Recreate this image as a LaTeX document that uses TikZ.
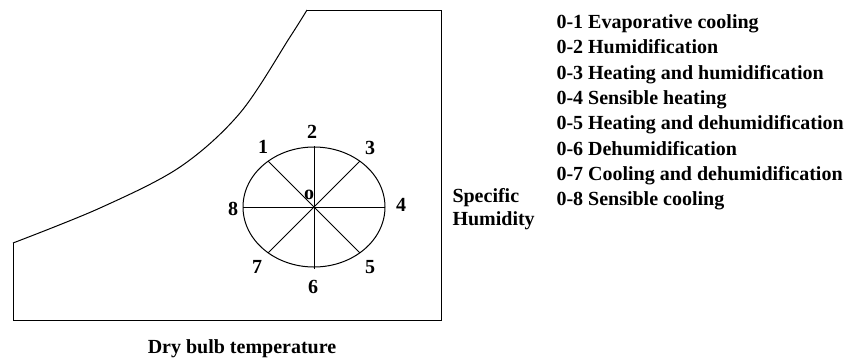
\documentclass[tikz,border=0pt]{standalone}
\usepackage{fontspec}
\setmainfont{Liberation Serif}
\usetikzlibrary{positioning}

\begin{document}
\begin{tikzpicture}[x=0.75pt,y=-0.75pt,line width=0.75pt,
  lbl/.style={font=\fontsize{15}{19}\selectfont\bfseries,inner sep=0pt}]
\useasboundingbox (0,0) rectangle (846,358);

% chart outline and saturation curve
\draw (307,10) -- (441,10) -- (441,320) -- (13,320) -- (13,243);
\draw plot[smooth,tension=0.55] coordinates {(13,243) (100,208) (180,167) (240,113) (290,37) (307,10)};

% process circle
\coordinate (o) at (314,207);
\draw (o) ellipse [x radius=71, y radius=60];
\coordinate (p1) at (268,161);
\coordinate (p2) at (314,146);
\coordinate (p3) at (360,161);
\coordinate (p4) at (385,207);
\coordinate (p5) at (360,253);
\coordinate (p6) at (314,269);
\coordinate (p7) at (268,253);
\coordinate (p8) at (243,207);
\foreach \i in {1,...,8} \draw (o) -- (p\i);

\node[lbl] (n1) at (263,147) {1};
\node[lbl] (n2) at (312,132) {2};
\node[lbl] (n3) at (370,148) {3};
\node[lbl] (n4) at (401,205) {4};
\node[lbl] (n5) at (370,267) {5};
\node[lbl] (n6) at (313,287) {6};
\node[lbl] (n7) at (257,267) {7};
\node[lbl] (n8) at (233,209) {8};
\node[lbl] (n0) at (309,195) {o};

% axis labels
\node[lbl,anchor=base] (xlab) at (242,353) {Dry bulb temperature};
\node[lbl,anchor=base west] (ylab1) at (452,202) {Specific};
\node[lbl,anchor=base west] (ylab2) at (452,225) {Humidity};

% legend
\foreach \txt [count=\i from 0] in {0-1 Evaporative cooling,0-2 Humidification,0-3 Heating and humidification,0-4 Sensible heating,0-5 Heating and dehumidification,0-6 Dehumidification,0-7 Cooling and dehumidification,0-8 Sensible cooling}
  \node[lbl,anchor=base west] (leg\i) at (556,{28.5+25.3*\i}) {\txt};
\end{tikzpicture}
\end{document}
